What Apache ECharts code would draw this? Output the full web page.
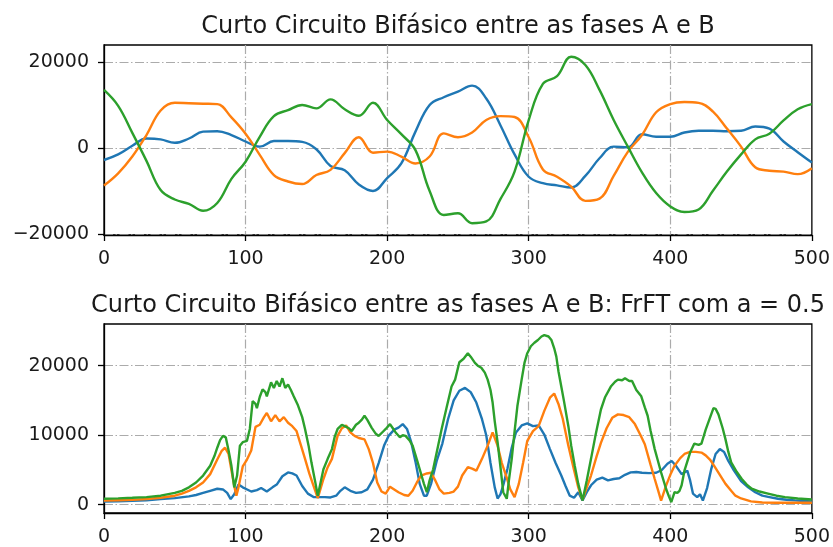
<!DOCTYPE html>
<html>
<head>
<meta charset="utf-8">
<script src="https://cdn.jsdelivr.net/npm/echarts@6/dist/echarts.min.js"></script>
<style>html,body{margin:0;padding:0;background:#fff}#c{width:833px;height:547px}</style>
</head>
<body>
<div id="c"></div>
<script>
// ---------- DATA ----------
const titleTop = 'Curto Circuito Bifásico entre as fases A e B';
const titleBottom = 'Curto Circuito Bifásico entre as fases A e B: FrFT com a = 0.5';
const seriesNames = ['Fase A', 'Fase B', 'Fase C'];
const topYTicks = [-20000, 0, 20000];
const bottomYTicks = [0, 10000, 20000];

const topX = [0,10,20,30,40,50,60,70,80,90,100,110,120,130,140,150,160,170,180,190,200,210,220,230,240,250,260,270,280,290,300,310,320,330,340,350,360,370,380,390,400,410,420,430,440,450,460,470,480,490,500];
const topBlue = [-2800,-1500,500,2200,2000,1200,2200,3800,3900,3000, 1500,300,1600,1600,1400,-300,-4200,-5200,-8500,-10000, -7000,-3600,3800,10000,11800,13100,14500,11500,5300,-1500, -6700,-8200,-8700,-9200,-6500,-2400,300,150,3200,2600, 2600,3600,4000,4000,3900,4000,5000,4500,1500,-1000,-3400];
const topOrange = [-8750,-5900,-2000,3000,8700,10500,10400,10300,10200,7100, 3300,-1600,-6300,-7800,-8400,-6300,-5100,-1200,2500,-1100, -850,-2000,-3600,-2000,3400,2500,3600,6500,7400,7200, 2500,-5000,-6700,-9000,-12300,-11800,-6500,-900,3000,8300, 10200,10700,10500,8500,4500,300,-4500,-5300,-5500,-6100,-4700];
const topGreen = [13500,9800,3500,-3000,-9800,-12000,-13000,-14600,-12800,-7200, -3200,2600,7400,8800,10000,9200,11300,9000,7500,10500, 6500,3200,-500,-10000,-15600,-15200,-17500,-17100,-11900,-5500, 6500,14900,16700,21200,19300,13500,6500,300,-5700,-10500, -13600,-14900,-14300,-10000,-5500,-1500,2000,3300,6400,9000,10200];

const botBlue = [[0,450],[10,500],[20,550],[30,650],[40,800],[50,950],[60,1200],[65,1400],[70,1700],[75,2000],[80,2300],[84,2200],[87,1700],[89.5,800],[92,1500],[95,2900],[98,2500],[100,2300],[104,1900],[108,2100],[111,2400],[115,1900],[119,2500],[122,2900],[126,4100],[130,4650],[133,4500],[136,4200],[140,2700],[144,1600],[148,1100],[152,1100],[156,1100],[160,1050],[164,1300],[167,2000],[170,2500],[174,2000],[178,1700],[182,1800],[186,2200],[190,3600],[194,6000],[198,8600],[201,9900],[205,10800],[208,11100],[211,11600],[214,10900],[217,9000],[220,6200],[223,3000],[226,1300],[228,1300],[231,3000],[235,6300],[239,8800],[243,12300],[247,15000],[251,16400],[255,16800],[259,16200],[263,14700],[267,12300],[270,10000],[273,6000],[276,2500],[278,900],[280,1500],[282,2800],[285,5200],[288,8200],[291,10400],[295,11400],[299,11700],[303,11300],[307,11400],[311,10100],[315,8000],[319,6000],[323,4200],[326,2700],[329,1300],[332,1000],[335,1800],[338,600],[341,1800],[344,2800],[348,3600],[352,3900],[356,3500],[360,3700],[364,3800],[368,4300],[372,4650],[376,4700],[380,4600],[385,4550],[390,4600],[394,5000],[398,5900],[401,6300],[404,5600],[408,4400],[412,4900],[414,3500],[416,1600],[419,1100],[421,1500],[423,600],[426,2400],[429,5200],[432,7300],[435,8000],[438,7600],[441,6300],[445,4900],[450,3400],[455,2500],[460,1800],[465,1300],[470,1100],[476,860],[482,720],[488,620],[494,540],[500,480]];
const botOrange = [[0,600],[10,650],[20,700],[30,820],[40,1000],[50,1300],[55,1600],[60,2000],[65,2500],[70,3200],[75,4400],[80,6500],[83,7700],[85.5,8200],[88,7300],[90,5000],[92,2700],[93.5,1300],[95,2500],[98,5500],[101,6500],[104,7800],[107,11200],[110,11500],[113,12600],[115,13200],[118,12000],[121,12900],[124,12000],[127,12600],[130,11800],[133,11300],[136,10600],[139,8600],[142,6600],[145,4500],[148,2700],[151,950],[155,3700],[158,5400],[161,6600],[165,9900],[168,11000],[171,11400],[174,10400],[177,9900],[180,9600],[184,9400],[187,8000],[190,6000],[193,3200],[196,1900],[199,1600],[202,2600],[205,2200],[208,1800],[212,1400],[215,1300],[218,2000],[221,3200],[224,4200],[228,4500],[231,4600],[234,3500],[237,2200],[240,1600],[244,1700],[247,1900],[250,2600],[253,4200],[257,5400],[260,5200],[263,4900],[267,6600],[271,8500],[274.5,10400],[278,8500],[281,6000],[284,4200],[287,2200],[290,1100],[293,3000],[296,6000],[299,9200],[303,10600],[307,11300],[311,13500],[315,15400],[318,16000],[321,14500],[324,12400],[328,8500],[332,5000],[335,2500],[338,700],[341,2500],[344,4200],[348,7000],[351,8900],[355,11000],[359,12500],[363,13000],[367,12900],[371,12600],[375,11600],[379,10000],[382,8700],[386,5800],[389,3700],[391.5,2000],[393.5,600],[397,2750],[400,4300],[403,5600],[407,6700],[410,7300],[414,7600],[418,7600],[422,7500],[425,7100],[428,6500],[431,5600],[435,4300],[439,3000],[443,2000],[446,1300],[450,900],[457,480],[465,330],[475,290],[500,290]];
const botGreen = [[0,860],[10,920],[20,1000],[30,1100],[40,1300],[50,1700],[55,2000],[60,2500],[65,3200],[70,4200],[75,5600],[78,7000],[80,8200],[82,9300],[84,9900],[86,9700],[88,7800],[90,5600],[92,2500],[93,2300],[94,4200],[96,8500],[98,9000],[101,9200],[103,10900],[105,14900],[107,14500],[108,13900],[110,15500],[112,16600],[114,16200],[115,15600],[118,17600],[120,16800],[122,17800],[124,17000],[126,18200],[128,16800],[130,17300],[132,16500],[134,15600],[137,14300],[140,12600],[142,10900],[144.5,8500],[146.5,6100],[149,3500],[151,1300],[153,3200],[155,5100],[158,6600],[161,8000],[163,9800],[165,10900],[168,11500],[170,11300],[173,11000],[175,10600],[178,11500],[180,11800],[182,12200],[184,12800],[186,12200],[189,11100],[192,10200],[194,9900],[197,10500],[199,10900],[202,11600],[204,11000],[206,10400],[209,9700],[211,10000],[213,9900],[216,9200],[218,8500],[221,6500],[223,5100],[226,3000],[228,1800],[230,3500],[232.5,5100],[236,8500],[238.5,10900],[242,14000],[245.5,17000],[248,18000],[251,20500],[254,21000],[257,21800],[259,21300],[262,20400],[264,20000],[266.5,19700],[269,19000],[271,18000],[273,16500],[274.5,14700],[276,12000],[278,9000],[280,5500],[282,1800],[284.5,860],[286,3500],[288,6600],[290,10500],[292,14200],[295,18000],[297,20400],[299,21800],[301.5,22800],[304,23300],[306.5,23700],[309,24200],[311,24400],[314,24200],[316,23700],[318,22500],[319.5,21300],[321,19200],[323,17000],[325,14800],[328,11300],[330,8500],[332.5,5600],[335,3000],[338,620],[341,3500],[344,6600],[347,9800],[351,13700],[354,15500],[358,17000],[361,17700],[363,18000],[366,17900],[368,18200],[371,17800],[373,17800],[376,16500],[379.5,15600],[382,14000],[384,12800],[386,10700],[389,8000],[391,6500],[393.5,4650],[397,2300],[399,1200],[400.7,380],[403,1800],[405,1700],[406.5,2000],[408,2800],[410,4900],[412,6200],[414,7500],[417,8800],[420,8600],[422,8800],[425,10800],[428,12500],[430.5,13900],[432,13800],[434,13000],[437,11000],[439,9400],[441,7600],[443,6100],[447,4700],[450.5,3700],[454,2900],[457.5,2300],[463,1900],[469,1600],[475,1300],[481,1100],[490,900],[500,760]];

// ---------- STYLE ----------
const colors = ['#1f77b4', '#ff7f0e', '#2ca02c'];
const FONT = 'DejaVu Sans';
const tickFont = 19;
const titleFont = 24;
const gridDash = {color: '#ababab', width: 1.2, type: [9, 2.5, 1.5, 2.5]};
const fmtY = v => (v < 0 ? '\u2212' + Math.abs(v) : String(v));

function xAxisFor(gi) {
  return {
    type: 'value', gridIndex: gi, min: 0, max: 500, interval: 100,
    axisLine: {show: true, onZero: false, lineStyle: {color: '#000', width: 1.3}},
    axisTick: {show: true, length: 6, lineStyle: {color: '#000', width: 1.3}},
    axisLabel: {fontFamily: FONT, fontSize: tickFont, color: '#1a1a1a', margin: 15},
    splitLine: {show: true, showMinLine: false, showMaxLine: false, lineStyle: gridDash}
  };
}
function yAxisFor(gi, min, max, ticks) {
  return {
    type: 'value', gridIndex: gi, min: min, max: max,
    axisLine: {show: true, onZero: false, lineStyle: {color: '#000', width: 1.3}},
    axisTick: {show: true, length: 6, customValues: ticks, lineStyle: {color: '#000', width: 1.3}},
    axisLabel: {fontFamily: FONT, fontSize: tickFont, color: '#1a1a1a', margin: 15, customValues: ticks, formatter: fmtY},
    splitLine: {show: true, lineStyle: gridDash}
  };
}
function lineSeries(name, data, gi, color, smooth) {
  return {
    name: name, type: 'line', xAxisIndex: gi, yAxisIndex: gi, data: data,
    showSymbol: false, smooth: smooth, animation: false,
    lineStyle: {color: color, width: 2.4}, itemStyle: {color: color}
  };
}

const zip = (xs, ys) => xs.map((x, i) => [x, ys[i]]);

const option = {
  animation: false,
  backgroundColor: '#fff',
  grid: [
    {left: 104, top: 45, width: 709, height: 190, show: true, borderColor: '#000', borderWidth: 1.3, backgroundColor: 'transparent'},
    {left: 104, top: 324, width: 709, height: 190, show: true, borderColor: '#000', borderWidth: 1.3, backgroundColor: 'transparent'}
  ],
  xAxis: [xAxisFor(0), xAxisFor(1)],
  yAxis: [yAxisFor(0, -20250, 23950, topYTicks), yAxisFor(1, -1190, 26000, bottomYTicks)],
  graphic: [
    {type: 'text', x: 458, y: 27, style: {text: titleTop, fontFamily: FONT, fontSize: titleFont, fill: '#1a1a1a', align: 'center', verticalAlign: 'middle'}},
    {type: 'text', x: 458, y: 306, style: {text: titleBottom, fontFamily: FONT, fontSize: titleFont, fill: '#1a1a1a', align: 'center', verticalAlign: 'middle'}}
  ],
  series: [
    lineSeries(seriesNames[0], zip(topX, topBlue), 0, colors[0], 0.4),
    lineSeries(seriesNames[1], zip(topX, topOrange), 0, colors[1], 0.4),
    lineSeries(seriesNames[2], zip(topX, topGreen), 0, colors[2], 0.4),
    lineSeries(seriesNames[0], botBlue, 1, colors[0], false),
    lineSeries(seriesNames[1], botOrange, 1, colors[1], false),
    lineSeries(seriesNames[2], botGreen, 1, colors[2], false)
  ]
};
const chart = echarts.init(document.getElementById('c'), null, {renderer: 'canvas'});
chart.setOption(option);
</script>
</body>
</html>
